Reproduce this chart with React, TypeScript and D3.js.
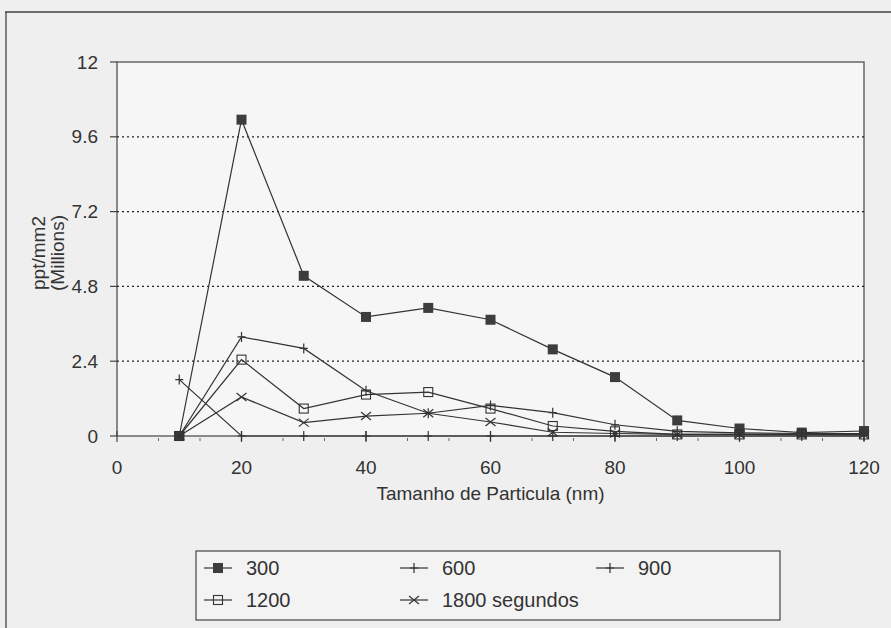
import React, { useEffect, useRef } from 'react';
import * as d3 from 'd3';

// particle size classes (nm)
const sizes = [10, 20, 30, 40, 50, 60, 70, 80, 90, 100, 110, 120];

// ppt/mm2 in millions
const s300 = [0, 10.15, 5.14, 3.82, 4.11, 3.73, 2.78, 1.89, 0.5, 0.24, 0.11, 0.16];
const s600 = [0, 3.18, 2.81, 1.45, 0.73, 0.98, 0.75, 0.36, 0.15, 0.1, 0.08, 0.08];
const s900 = [1.81, 0, 0, 0, 0, 0, 0, 0, 0, 0, 0, 0];
const s1200 = [0, 2.45, 0.88, 1.33, 1.41, 0.88, 0.32, 0.15, 0.05, 0.05, 0.05, 0.05];
const s1800 = [0, 1.25, 0.43, 0.64, 0.73, 0.45, 0.12, 0.08, 0.05, 0.05, 0.04, 0.04];

const xTicks = [0, 20, 40, 60, 80, 100, 120];
const yTicks = [0, 2.4, 4.8, 7.2, 9.6, 12];

type MarkerKind = 'filledSquare' | 'plus' | 'openSquare' | 'cross';

const series: Array<{ name: string; values: number[]; marker: MarkerKind }> = [
  { name: '300', values: s300, marker: 'filledSquare' },
  { name: '600', values: s600, marker: 'plus' },
  { name: '900', values: s900, marker: 'plus' },
  { name: '1200', values: s1200, marker: 'openSquare' },
  { name: '1800 segundos', values: s1800, marker: 'cross' }
];

const INK = '#333';
const FONT = '"Liberation Sans", Arial, sans-serif';

function drawMarker(g: d3.Selection<SVGGElement, unknown, null, undefined>, kind: MarkerKind, x: number, y: number) {
  if (kind === 'filledSquare') {
    g.append('rect')
      .attr('x', x - 5).attr('y', y - 5)
      .attr('width', 10).attr('height', 10)
      .attr('fill', '#3d3d3d');
  } else if (kind === 'openSquare') {
    g.append('rect')
      .attr('x', x - 4.5).attr('y', y - 4.5)
      .attr('width', 9).attr('height', 9)
      .attr('fill', 'none')
      .attr('stroke', INK)
      .attr('stroke-width', 1.1);
  } else if (kind === 'plus') {
    g.append('path')
      .attr('d', `M${x},${y - 5}V${y + 5}M${x - 4},${y}H${x + 4}`)
      .attr('stroke', INK)
      .attr('stroke-width', 1.2);
  } else {
    g.append('path')
      .attr('d', `M${x - 5},${y - 4}L${x + 5},${y + 4}M${x - 5},${y + 4}L${x + 5},${y - 4}`)
      .attr('stroke', INK)
      .attr('stroke-width', 1.2);
  }
}

const App: React.FC = () => {
  const svgRef = useRef<SVGSVGElement>(null);
  const width = 891;
  const height = 628;

  useEffect(() => {
    if (!svgRef.current) return;
    const svg = d3.select(svgRef.current);
    svg.selectAll('*').remove();

    const plot = { left: 117, right: 864, top: 62, bottom: 436 };

    const x = d3.scaleLinear().domain([0, 120]).range([plot.left, plot.right]);
    const y = d3.scaleLinear().domain([0, 12]).range([plot.bottom, plot.top]);

    // paper
    svg.append('rect')
      .attr('width', width).attr('height', height)
      .attr('fill', '#efefef');

    // outer frame of the scanned chart
    svg.append('path')
      .attr('d', `M5,12H${width}M6,12V${height}`)
      .attr('stroke', '#444')
      .attr('stroke-width', 1.3)
      .attr('fill', 'none');

    // plot area
    svg.append('rect')
      .attr('x', plot.left).attr('y', plot.top)
      .attr('width', plot.right - plot.left)
      .attr('height', plot.bottom - plot.top)
      .attr('fill', '#f6f6f6')
      .attr('stroke', '#444')
      .attr('stroke-width', 1.2);

    // dotted gridlines
    svg.append('g')
      .selectAll('line')
      .data(yTicks.filter(t => t > 0 && t < 12))
      .join('line')
      .attr('x1', plot.left).attr('x2', plot.right)
      .attr('y1', d => y(d)).attr('y2', d => y(d))
      .attr('stroke', '#222')
      .attr('stroke-width', 1.3)
      .attr('stroke-dasharray', '2,3');

    // y axis ticks + labels
    const yAxis = svg.append('g');
    yTicks.forEach(t => {
      yAxis.append('line')
        .attr('x1', plot.left - 7).attr('x2', plot.left)
        .attr('y1', y(t)).attr('y2', y(t))
        .attr('stroke', '#444').attr('stroke-width', 1.2);
      yAxis.append('text')
        .attr('x', plot.left - 19)
        .attr('y', y(t))
        .attr('dy', '0.35em')
        .attr('text-anchor', 'end')
        .style('font-family', FONT)
        .style('font-size', '19px')
        .style('fill', INK)
        .text(String(t));
    });

    // x axis: major ticks crossing, minor ticks underneath
    const xAxis = svg.append('g');
    d3.range(0, 121, 20 / 3).forEach(m => {
      if (Math.abs(m / 20 - Math.round(m / 20)) < 0.01) return;
      xAxis.append('line')
        .attr('x1', x(m)).attr('x2', x(m))
        .attr('y1', plot.bottom + 2).attr('y2', plot.bottom + 5)
        .attr('stroke', '#666').attr('stroke-width', 1);
    });
    xTicks.forEach(t => {
      xAxis.append('line')
        .attr('x1', x(t)).attr('x2', x(t))
        .attr('y1', plot.bottom - 5).attr('y2', plot.bottom + 6)
        .attr('stroke', '#444').attr('stroke-width', 1.2);
      xAxis.append('text')
        .attr('x', x(t))
        .attr('y', 474)
        .attr('text-anchor', 'middle')
        .style('font-family', FONT)
        .style('font-size', '19px')
        .style('fill', INK)
        .text(String(t));
    });

    // axis titles
    svg.append('text')
      .attr('x', (plot.left + plot.right) / 2)
      .attr('y', 500)
      .attr('text-anchor', 'middle')
      .style('font-family', FONT)
      .style('font-size', '19px')
      .style('fill', INK)
      .text('Tamanho de Particula (nm)');

    const yTitle = svg.append('text')
      .attr('transform', `translate(0, ${(plot.top + plot.bottom) / 2 + 4}) rotate(-90)`)
      .attr('text-anchor', 'middle')
      .style('font-family', FONT)
      .style('font-size', '19px')
      .style('fill', INK);
    yTitle.append('tspan').attr('x', 0).attr('y', 45).text('ppt/mm2');
    yTitle.append('tspan').attr('x', 0).attr('y', 64).text('(Millions)');

    // series
    const line = d3.line<number>()
      .x((_, i) => x(sizes[i]))
      .y(d => y(d));

    const lines = svg.append('g');
    series.forEach(s => {
      lines.append('path')
        .datum(s.values)
        .attr('fill', 'none')
        .attr('stroke', INK)
        .attr('stroke-width', 1.2)
        .attr('d', line);
    });
    const marks = svg.append('g');
    series.forEach(s => {
      s.values.forEach((v, i) => drawMarker(marks, s.marker, x(sizes[i]), y(v)));
    });

    // legend
    const legend = svg.append('g');
    legend.append('rect')
      .attr('x', 196).attr('y', 551)
      .attr('width', 584).attr('height', 69)
      .attr('fill', '#f3f3f3')
      .attr('stroke', '#444')
      .attr('stroke-width', 1.2);

    const legendPos = [
      { x: 204, y: 568 },
      { x: 400, y: 568 },
      { x: 596, y: 568 },
      { x: 204, y: 600 },
      { x: 400, y: 600 }
    ];
    series.forEach((s, i) => {
      const p = legendPos[i];
      legend.append('line')
        .attr('x1', p.x).attr('x2', p.x + 28)
        .attr('y1', p.y).attr('y2', p.y)
        .attr('stroke', INK).attr('stroke-width', 1.2);
      drawMarker(legend, s.marker, p.x + 14, p.y);
      legend.append('text')
        .attr('x', p.x + 42)
        .attr('y', p.y)
        .attr('dy', '0.35em')
        .style('font-family', FONT)
        .style('font-size', '20px')
        .style('fill', INK)
        .text(s.name);
    });
  }, []);

  return (
    <svg
      ref={svgRef}
      width={width}
      height={height}
      style={{ position: 'absolute', left: 0, top: 0, display: 'block' }}
    />
  );
};

export default App;
